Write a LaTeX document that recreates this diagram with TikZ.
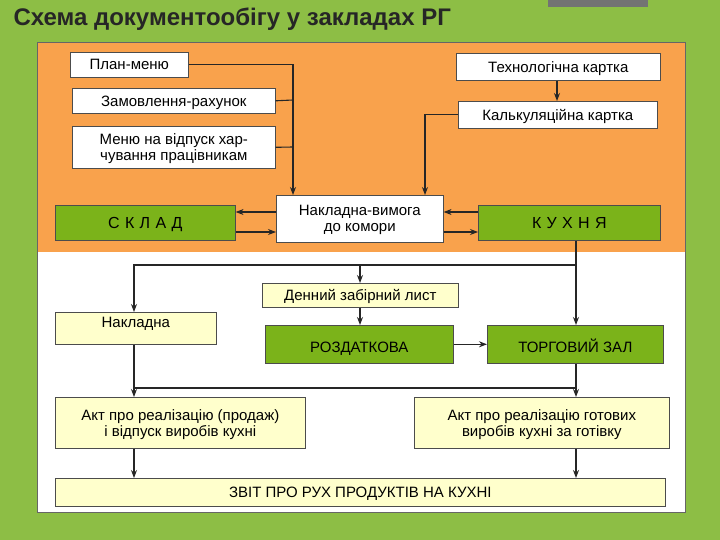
\documentclass[tikz,border=0pt]{standalone}
\usepackage{fontspec}
\setmainfont{Liberation Sans}
\usetikzlibrary{arrows.meta}
\definecolor{bg}{HTML}{8DBE45}
\definecolor{org}{HTML}{F9A24C}
\definecolor{grn}{HTML}{7BB31A}
\definecolor{lyel}{HTML}{FFFFCC}
\begin{document}
\begin{tikzpicture}[x=1pt,y=-1pt,
 box/.style={draw=black!70,line width=0.6pt,inner sep=0pt,font=\fontsize{15}{16}\selectfont,align=center,text depth=0pt},
 wbox/.style={box,fill=white},
 gbox/.style={box,fill=grn},
 ybox/.style={box,fill=lyel},
 ar/.style={draw=black!85,line width=1.1pt,-{Stealth[length=8pt,width=6pt]}},
 ln/.style={draw=black!85,line width=1.1pt}]
\fill[bg] (0,0) rectangle (720,540);
\fill[black!55] (548,0) rectangle (648,7);
\fill[white] (37,42) rectangle (685,512);
\fill[org] (37,42) rectangle (685,252);
\draw[black!60] (37,42) rectangle (685,512);
\node[anchor=west,font=\fontsize{24}{26}\selectfont\bfseries,text=black!85] (title) at (10,19) {Схема документообігу у закладах РГ};
\node[wbox,minimum width=118,minimum height=25,anchor=north west] (plan) at (70,52) {План-меню};
\node[wbox,minimum width=204,minimum height=27,anchor=north west] (tech) at (456,53) {Технологічна картка};
\node[wbox,minimum width=203,minimum height=25,anchor=north west] (zam) at (72,88) {Замовлення-рахунок};
\node[wbox,minimum width=199,minimum height=27,anchor=north west] (calc) at (458,101) {Калькуляційна картка};
\node[wbox,minimum width=203,minimum height=42,anchor=north west] (menu) at (72,126) {Меню на відпуск хар-\\чування працівникам};
\node[gbox,minimum width=180,minimum height=35,anchor=north west,font=\fontsize{16}{17}\selectfont] (sklad) at (55,205) {С\,\,К\,\,Л\,\,А\,\,Д};
\node[wbox,minimum width=167,minimum height=47,anchor=north west] (nv) at (276,195) {Накладна-вимога\\до комори};
\node[gbox,minimum width=182,minimum height=35,anchor=north west,font=\fontsize{16}{17}\selectfont] (kuh) at (478,205) {К\,\,У\,\,Х\,\,Н\,\,Я};
\node[ybox,minimum width=196,minimum height=24,anchor=north west] (den) at (262,283) {Денний забірний лист};
\node[ybox,minimum width=161,minimum height=32,anchor=north west,text depth=12pt] (nakl) at (55,312) {Накладна};
\node[gbox,minimum width=188,minimum height=38,anchor=north west,text height=17pt] (roz) at (265,325) {РОЗДАТКОВА};
\node[gbox,minimum width=176,minimum height=38,anchor=north west,text height=17pt] (torg) at (487,325) {ТОРГОВИЙ ЗАЛ};
\node[ybox,minimum width=250,minimum height=51,anchor=north west] (akt1) at (55,397) {Акт про реалізацію (продаж)\\і відпуск виробів кухні};
\node[ybox,minimum width=255,minimum height=51,anchor=north west] (akt2) at (414,397) {Акт про реалізацію готових\\виробів кухні за готівку};
\node[ybox,minimum width=610,minimum height=28,anchor=north west] (zvit) at (55,478) {ЗВІТ ПРО РУХ ПРОДУКТІВ НА КУХНІ};
% top connectors
\draw[ar] (plan.east) -| (293,195);
\draw[ln] (zam.east) -- (293,100);
\draw[ln] (menu.east) -- (293,147);
\draw[ar] (tech.south -| 557,0) -- (calc.north -| 557,0);
\draw[ar] (calc.west) -| (425,195);
\draw[ar] (nv.west |- 0,212) -- (sklad.east |- 0,212);
\draw[ar] (sklad.east |- 0,232) -- (nv.west |- 0,232);
\draw[ar] (kuh.west |- 0,212) -- (nv.east |- 0,212);
\draw[ar] (nv.east |- 0,232) -- (kuh.west |- 0,232);
% bottom
\draw[ar] (kuh.south -| 576,0) -- (torg.north -| 576,0);
\draw[ar] (576,265) -| (nakl.north -| 134,0);
\draw[ar] (360,265) -- (den.north -| 360,0);
\draw[ar] (den.south -| 360,0) -- (roz.north -| 360,0);
\draw[ar] (roz.east) -- (torg.west);
\draw[ar] (nakl.south -| 134,0) -- (akt1.north -| 134,0);
\draw[ln] (134,388) -- (576,388);
\draw[ar] (torg.south -| 576,0) -- (akt2.north -| 576,0);
\draw[ar] (akt1.south -| 134,0) -- (zvit.north -| 134,0);
\draw[ar] (akt2.south -| 576,0) -- (zvit.north -| 576,0);
\end{tikzpicture}
\end{document}
